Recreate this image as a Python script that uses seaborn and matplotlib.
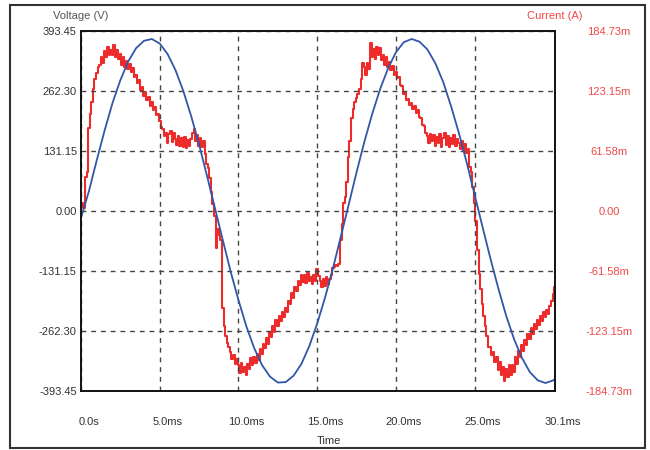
import matplotlib
matplotlib.use("Agg")
import matplotlib.pyplot as plt
import matplotlib.transforms as mtransforms
from matplotlib.patches import Rectangle
import numpy as np
import seaborn as sns

# ---------------- data ----------------
# Voltage samples (V)
volt_t = [0.0, 0.5, 1.0, 1.5, 2.0, 2.5, 3.0, 3.5, 4.0, 4.5, 5.0, 5.5, 6.0, 6.5, 7.0, 7.5,
          8.0, 8.5, 9.0, 9.5, 10.0, 10.5, 11.0, 11.5, 12.0, 12.5, 13.0, 13.5, 14.0, 14.5,
          15.0, 15.5, 16.0, 16.5, 17.0, 17.5, 18.0, 18.5, 19.0, 19.5, 20.0, 20.5, 21.0,
          21.5, 22.0, 22.5, 23.0, 23.5, 24.0, 24.5, 25.0, 25.5, 26.0, 26.5, 27.0, 27.5,
          28.0, 28.5, 29.0, 29.5, 30.0, 30.1]
volt_v = [-15, 43, 111, 176, 236, 286, 327, 356, 372, 376, 366, 343, 308, 262, 207, 145,
          77, 7, -63, -132, -195, -252, -300, -337, -362, -375, -374, -360, -334, -295,
          -246, -189, -125, -56, 14, 85, 152, 213, 267, 312, 347, 369, 376,
          370, 353, 323, 282, 229, 170, 105, 35, -35, -104, -169, -229, -280,
          -321, -352, -370, -376, -370, -367]

# Current samples (mA), one every 0.1 ms from 0.0 to 30.1 ms
current_ma = [
    5, 8, 3, 35, 40, 85, 100, 112, 125, 135,
    142, 148, 150, 158, 152, 164, 158, 168, 160, 165,
    160, 170, 158, 165, 156, 161, 150, 158, 148, 154,
    146, 151, 143, 147, 138, 140, 131, 134, 124, 127,
    118, 122, 114, 117, 108, 112, 104, 107, 99, 100,
    92, 86, 84, 77, 80, 70, 79, 82, 71, 80,
    74, 68, 77, 67, 75, 66, 76, 65, 73, 67,
    74, 80, 84, 72, 78, 67, 75, 66, 72, 58,
    48, 44, 34, 20, 7, -5, -38, -18, -25, -30,
    -100, -118, -128, -135, -140, -145, -152, -148, -157, -152,
    -158, -166, -156, -165, -160, -168, -157, -162, -151, -158,
    -150, -156, -147, -153, -142, -147, -136, -141, -130, -136,
    -124, -129, -118, -124, -112, -118, -108, -113, -104, -109,
    -100, -104, -92, -95, -84, -89, -78, -82, -72, -76,
    -66, -73, -66, -74, -64, -72, -68, -75, -66, -72,
    -60, -67, -72, -78, -70, -77, -68, -75, -70, -66,
    -58, -57, -55, -56, -54, -30, -13, 8, 14, 30,
    55, 72, 95, 105, 112, 116, 120, 125, 135, 152,
    148, 140, 152, 146, 172, 158, 166, 156, 168, 160,
    167, 155, 160, 150, 158, 148, 153, 145, 149, 140,
    143, 136, 138, 129, 128, 120, 122, 114, 115, 109,
    111, 105, 108, 101, 104, 96, 95, 88, 87, 80,
    77, 70, 79, 72, 78, 67, 76, 70, 79, 66,
    75, 80, 68, 77, 66, 75, 69, 78, 67, 74,
    70, 64, 72, 63, 69, 60, 64, 45, 40, 25,
    8, -10, -40, -65, -80, -95, -108, -118, -128, -140,
    -140, -148, -145, -155, -150, -163, -155, -168, -160, -174,
    -162, -170, -158, -168, -158, -165, -150, -157, -144, -150,
    -138, -144, -132, -138, -126, -131, -120, -126, -116, -121,
    -112, -117, -108, -113, -104, -109, -102, -106, -98, -92,
    -85, -78]
current_t = [round(i * 0.1, 1) for i in range(len(current_ma))]

x_ticks = [0, 5, 10, 15, 20, 25, 30.1]
x_tick_labels = ["0.0s", "5.0ms", "10.0ms", "15.0ms", "20.0ms", "25.0ms", "30.1ms"]
v_ticks = [-393.45, -262.30, -131.15, 0.0, 131.15, 262.30, 393.45]
v_tick_labels = ["-393.45", "-262.30", "-131.15", "0.00", "131.15", "262.30", "393.45"]
i_ticks = [-184.73, -123.15, -61.58, 0.0, 61.58, 123.15, 184.73]
i_tick_labels = ["-184.73m", "-123.15m", "-61.58m", "0.00", "61.58m", "123.15m", "184.73m"]

BLUE = "#3256a8"
RED = "#ee2b2b"
RED_TXT = "#f04848"
DARK = "#333333"

# ---------------- figure ----------------
sns.set_theme(style="white")
plt.rcParams["font.family"] = ["Liberation Sans", "DejaVu Sans"]
plt.rcParams["font.size"] = 8

fig = plt.figure(figsize=(6.5, 4.5), dpi=100)
ax = fig.add_axes([81 / 650, 1 - 391 / 450, 474 / 650, 360 / 450])
ax2 = ax.twinx()

sns.lineplot(x=current_t, y=current_ma, ax=ax2, color=RED, linewidth=1.5,
             drawstyle="steps-mid", estimator=None, sort=False)
sns.lineplot(x=volt_t, y=volt_v, ax=ax, color=BLUE, linewidth=1.3,
             estimator=None, sort=False)

ax.set_zorder(ax2.get_zorder() + 1)
ax.patch.set_visible(False)
ax2.patch.set_facecolor("white")

ax.set_xlim(0, 30.1)
ax.set_ylim(-393.45, 393.45)
ax2.set_ylim(-184.73, 184.73)

ax.set_xticks(x_ticks)
ax.set_xticklabels(x_tick_labels, color=DARK, fontsize=8)
ax.set_yticks(v_ticks)
ax.set_yticklabels(v_tick_labels, color=DARK, fontsize=8)
ax2.set_yticks(i_ticks)
ax2.set_yticklabels(i_tick_labels, color=RED_TXT, fontsize=8, ha="center")

ax.tick_params(axis="x", length=0, pad=19)
ax.tick_params(axis="y", length=0, pad=3)
ax2.tick_params(axis="y", length=0, pad=39)

shift = mtransforms.ScaledTranslation(8 / 100, 0, fig.dpi_scale_trans)
for lbl in ax.get_xticklabels():
    lbl.set_transform(lbl.get_transform() + shift)

ax.grid(True, linestyle=(0, (3.5, 3.5)), color="#444444", linewidth=1.0)
ax2.grid(False)

for s in ax.spines.values():
    s.set_color("#111111")
    s.set_linewidth(1.4)
for s in ax2.spines.values():
    s.set_visible(False)

ax.set_xlabel("Time", color=DARK, fontsize=8)
ax.xaxis.set_label_coords(0.523, -0.125)
ax.set_ylabel("Voltage (V)", color="#555555", fontsize=8, rotation=0,
              ha="center", va="center")
ax.yaxis.set_label_coords(0.0, 1.042)
ax2.set_ylabel("Current (A)", color=RED_TXT, fontsize=8, rotation=0,
               ha="center", va="center")
ax2.yaxis.set_label_coords(1.0, 1.042)

fig.add_artist(Rectangle((9.5 / 650, 1 - 448 / 450), 635.5 / 650, 443 / 450,
                         transform=fig.transFigure, fill=False,
                         edgecolor="#333333", linewidth=1.5))

fig.savefig("out.png", dpi=100)
